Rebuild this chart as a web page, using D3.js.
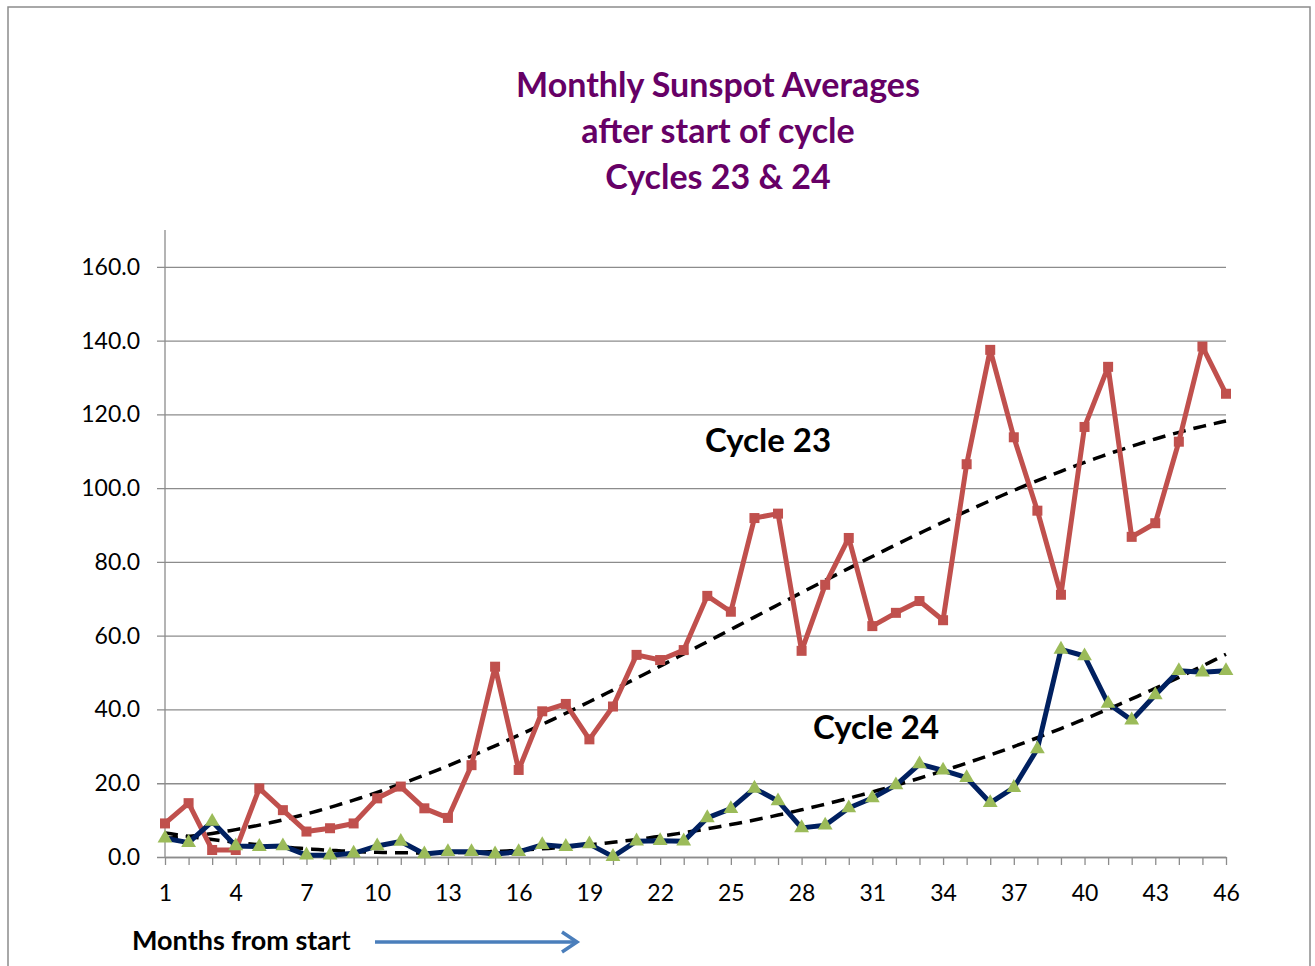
<!DOCTYPE html>
<html>
<head>
<meta charset="utf-8">
<script src="https://cdn.jsdelivr.net/npm/d3@7"></script>
<style>
  body { margin: 0; background: #fff; }
  text { font-family: Lato, "Open Sans", sans-serif; }
</style>
</head>
<body>
<div id="chart"></div>
<script>
// monthly sunspot averages, months 1..46 after start of cycle
const months = d3.range(1, 47);
const cycle23 = [9.1, 14.6, 1.9, 1.9, 18.6, 12.7, 6.9, 7.8, 9.1, 15.9,
  19.1, 13.2, 10.6, 24.9, 51.6, 23.6, 39.5, 41.5, 31.9, 40.8,
  54.8, 53.4, 56.1, 70.8, 66.5, 91.9, 93.1, 55.9, 73.8, 86.5,
  62.6, 66.2, 69.4, 64.2, 106.5, 137.5, 113.8, 93.9, 71.1, 116.6,
  132.9, 86.8, 90.5, 112.6, 138.4, 125.6];
const cycle24 = [5.1, 3.9, 9.6, 3.0, 2.8, 3.0, 0.5, 0.5, 1.0, 3.0,
  4.2, 0.8, 1.4, 1.4, 0.8, 1.4, 3.3, 2.8, 3.5, 0.1,
  4.3, 4.4, 4.3, 10.6, 13.1, 18.6, 15.2, 7.9, 8.6, 13.3,
  16.0, 19.5, 25.2, 23.5, 21.5, 14.7, 18.8, 29.3, 56.3, 54.5,
  41.6, 37.1, 43.9, 50.5, 50.1, 50.5];
const yTicks = [0, 20, 40, 60, 80, 100, 120, 140, 160];
const xLabels = months.filter(m => (m - 1) % 3 === 0);
const titleLines = ["Monthly Sunspot Averages", "after start of cycle", "Cycles 23 & 24"];

(function sunspot_chart() {
    const width = 1315,
        height = 966,
        margin = ({ top: 230, right: 89, bottom: 109, left: 165 });

    const svg = d3.select("#chart")
        .append("svg")
        .attr("width", width)
        .attr("height", height);

    // outer chart border
    svg.append("rect")
        .attr("x", 8).attr("y", 7)
        .attr("width", 1302).attr("height", 980)
        .attr("fill", "none")
        .attr("stroke", "#8c8c8c")
        .attr("stroke-width", 1.5);

    let x = d3.scaleLinear()
        .domain([1, 46])
        .range([margin.left, width - margin.right]);

    let y = d3.scaleLinear()
        .domain([0, 170])
        .range([height - margin.bottom, margin.top]);

    // gridlines + y labels (gridlines poke out 8px left of the axis)
    svg.append("g")
        .attr("transform", `translate(${margin.left},0)`)
        .call(d3.axisLeft(y)
            .tickValues(yTicks)
            .tickSize(-(width - margin.right - margin.left))
            .tickPadding(25)
            .tickFormat(d3.format(".1f")))
        .call(g => g.select(".domain").remove())
        .call(g => g.selectAll(".tick line")
            .attr("x1", -8)
            .attr("stroke", "#8c8c8c").attr("stroke-width", 1.3))
        .call(g => g.selectAll(".tick text")
            .attr("font-size", 23).attr("fill", "#000"));

    // y axis line
    svg.append("line")
        .attr("x1", margin.left).attr("x2", margin.left)
        .attr("y1", y(170)).attr("y2", y(0))
        .attr("stroke", "#8c8c8c").attr("stroke-width", 1.3);

    // x axis, tick every month, label every third
    svg.append("g")
        .attr("transform", `translate(0,${y(0)})`)
        .call(d3.axisBottom(x)
            .tickValues(months)
            .tickSize(8)
            .tickSizeOuter(0)
            .tickPadding(20)
            .tickFormat(d => xLabels.includes(d) ? d : ""))
        .call(g => g.select(".domain").attr("stroke", "#8c8c8c").attr("stroke-width", 1.3))
        .call(g => g.selectAll(".tick line").attr("stroke", "#8c8c8c").attr("stroke-width", 1.3))
        .call(g => g.selectAll(".tick text")
            .attr("font-size", 23).attr("fill", "#000"));

    // least squares polynomial trendline (like the spreadsheet trendline)
    function polyFit(xs, ys, order) {
        const n = order + 1;
        let A = d3.range(n).map(() => new Array(n + 1).fill(0));
        xs.forEach((xv, k) => {
            for (let i = 0; i < n; i++) {
                for (let j = 0; j < n; j++) A[i][j] += Math.pow(xv, i + j);
                A[i][n] += ys[k] * Math.pow(xv, i);
            }
        });
        for (let i = 0; i < n; i++) {
            let p = i;
            for (let r = i + 1; r < n; r++) if (Math.abs(A[r][i]) > Math.abs(A[p][i])) p = r;
            [A[i], A[p]] = [A[p], A[i]];
            for (let r = 0; r < n; r++) {
                if (r === i) continue;
                const f = A[r][i] / A[i][i];
                for (let c = i; c <= n; c++) A[r][c] -= f * A[i][c];
            }
        }
        const coef = A.map((row, i) => row[n] / row[i]);
        return xv => coef.reduce((s, c, i) => s + c * Math.pow(xv, i), 0);
    }

    let line = d3.line()
        .x(d => x(d[0]))
        .y(d => y(d[1]));

    const fine = d3.range(1, 46.01, 0.25);
    [cycle23, cycle24].forEach(vals => {
        const f = polyFit(months, vals, 3);
        svg.append("path")
            .datum(fine.map(m => [m, f(m)]))
            .attr("d", line)
            .attr("fill", "none")
            .attr("stroke", "#000")
            .attr("stroke-width", 3.5)
            .attr("stroke-dasharray", "13,8");
    });

    // cycle 23 series
    const d23 = months.map((m, i) => [m, cycle23[i]]);
    svg.append("path")
        .datum(d23)
        .attr("d", line)
        .attr("fill", "none")
        .attr("stroke", "#c0504d")
        .attr("stroke-width", 5)
        .attr("stroke-linejoin", "round");

    svg.append("g").selectAll("rect")
        .data(d23)
        .join("rect")
        .attr("x", d => x(d[0]) - 5)
        .attr("y", d => y(d[1]) - 5)
        .attr("width", 10).attr("height", 10)
        .attr("fill", "#c0504d");

    // cycle 24 series
    const d24 = months.map((m, i) => [m, cycle24[i]]);
    svg.append("path")
        .datum(d24)
        .attr("d", line)
        .attr("fill", "none")
        .attr("stroke", "#002060")
        .attr("stroke-width", 5)
        .attr("stroke-linejoin", "round");

    svg.append("g").selectAll("path")
        .data(d24)
        .join("path")
        .attr("d", d3.symbol(d3.symbolTriangle, 95))
        .attr("transform", d => `translate(${x(d[0])},${y(d[1])})`)
        .attr("fill", "#9bbb59");

    // title
    svg.append("g").selectAll("text")
        .data(titleLines)
        .join("text")
        .attr("x", 718)
        .attr("y", (d, i) => 88 + i * 46)
        .attr("text-anchor", "middle")
        .attr("dominant-baseline", "middle")
        .attr("font-size", 34)
        .attr("font-weight", "bold")
        .attr("fill", "#660066")
        .text(d => d);

    // series labels
    svg.append("text")
        .attr("x", 768).attr("y", 444)
        .attr("text-anchor", "middle")
        .attr("dominant-baseline", "middle")
        .attr("font-size", 33).attr("font-weight", "bold")
        .text("Cycle 23");

    svg.append("text")
        .attr("x", 876).attr("y", 731)
        .attr("text-anchor", "middle")
        .attr("dominant-baseline", "middle")
        .attr("font-size", 33).attr("font-weight", "bold")
        .text("Cycle 24");

    // x axis title with arrow
    let xt = svg.append("text")
        .attr("x", 132).attr("y", 943)
        .attr("dominant-baseline", "middle")
        .attr("font-size", 27);
    xt.append("tspan").attr("font-weight", "bold").text("Months from star");
    xt.append("tspan").text("t");

    svg.append("line")
        .attr("x1", 375).attr("x2", 576)
        .attr("y1", 942).attr("y2", 942)
        .attr("stroke", "#4a7ebb").attr("stroke-width", 3.5);
    svg.append("path")
        .attr("d", "M562,932 L577,942 L562,952")
        .attr("fill", "none")
        .attr("stroke", "#4a7ebb").attr("stroke-width", 3.5);
})();
</script>
</body>
</html>
